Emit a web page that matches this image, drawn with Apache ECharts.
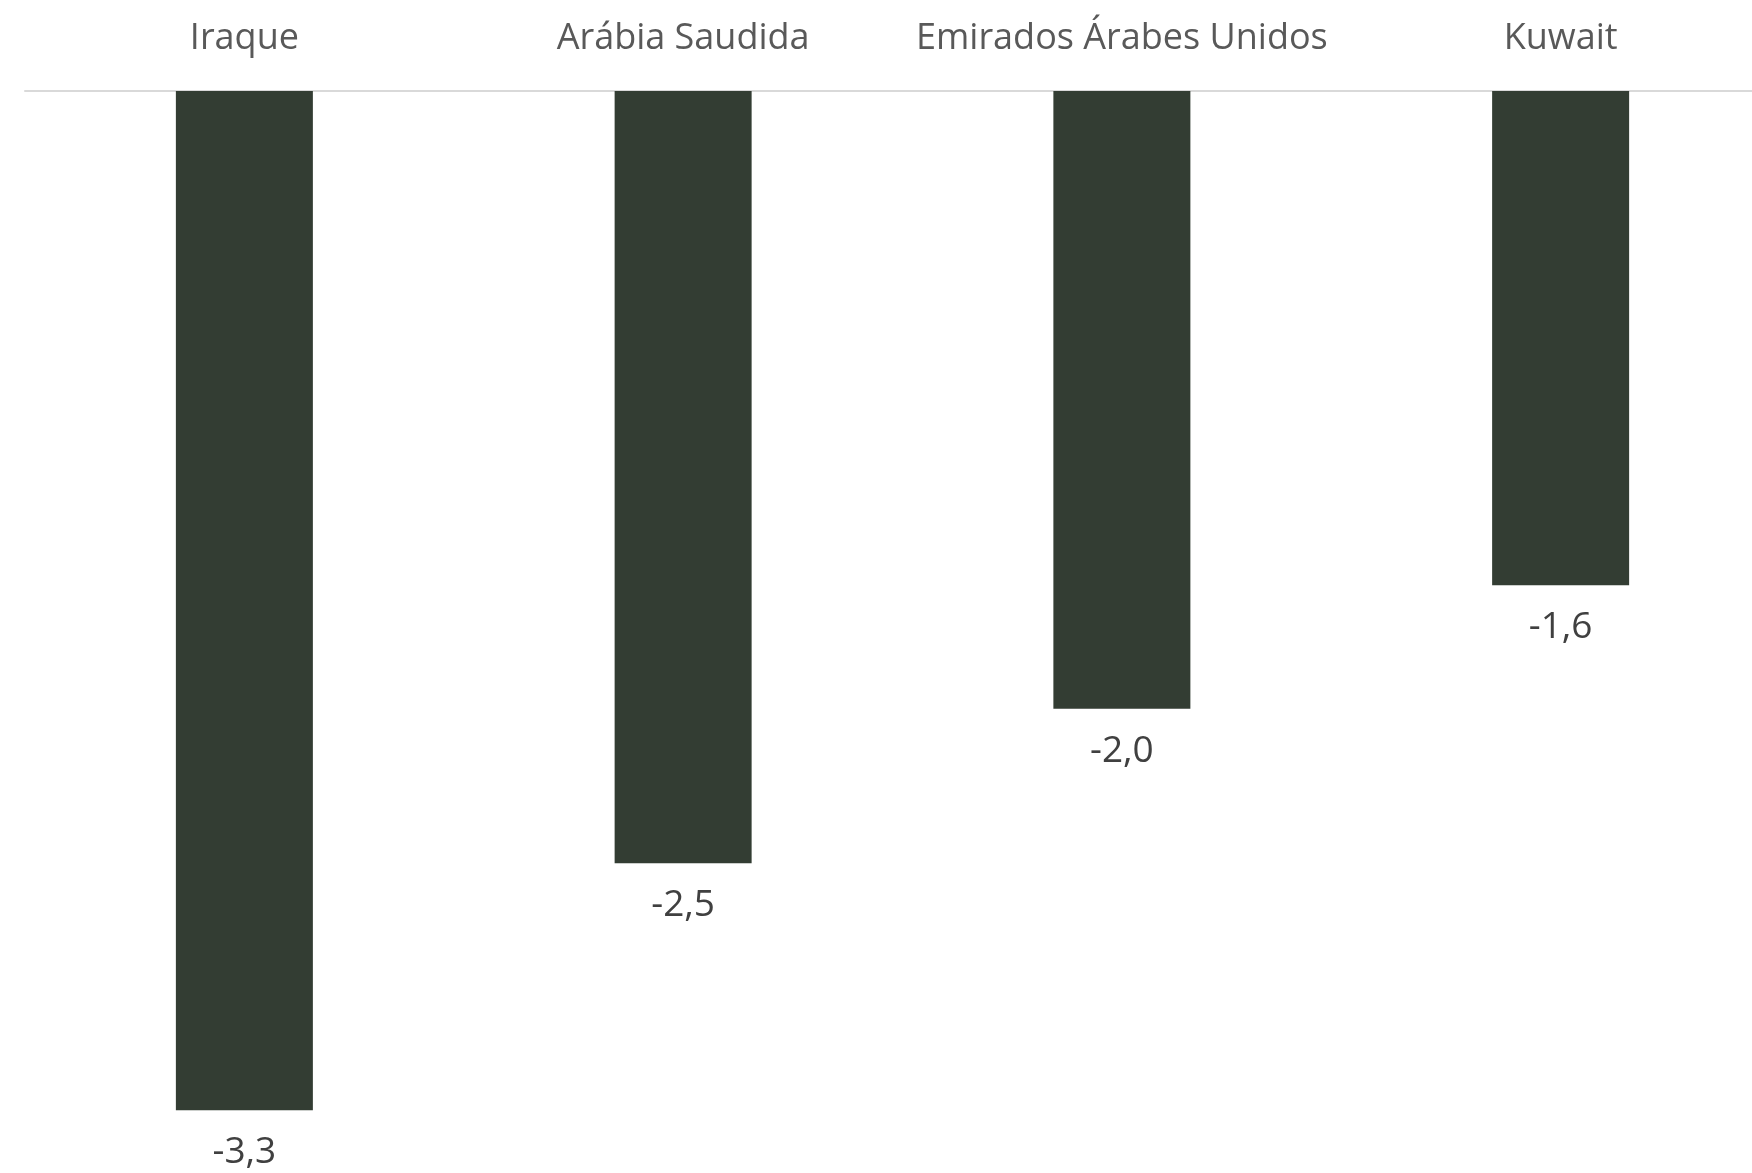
<!DOCTYPE html>
<html>
<head>
<meta charset="utf-8">
<style>
  html, body { margin: 0; padding: 0; background: #ffffff; overflow: hidden; }
  /* the plot runs slightly past the right edge of the page */
  #chart { width: 1780px; height: 1173px; }
</style>
<script src="https://cdn.jsdelivr.net/npm/echarts@6/dist/echarts.min.js"></script>
</head>
<body>
<div id="chart"></div>
<script>
// Countries and their values (negative, drawn downward from the top axis)
const categories = ['Iraque', 'Arábia Saudida', 'Emirados Árabes Unidos', 'Kuwait'];
const values = [-3.3, -2.5, -2.0, -1.6];

const chart = echarts.init(document.getElementById('chart'));

chart.setOption({
  animation: false,
  backgroundColor: '#ffffff',
  grid: { left: 25, top: 91, right: 0, height: 1081, containLabel: false },
  xAxis: {
    type: 'category',
    position: 'top',
    data: categories,
    axisLine: { show: true, onZero: false, lineStyle: { color: '#d9d9d9', width: 2 } },
    axisTick: { show: false },
    axisLabel: {
      interval: 0,
      margin: 34,
      color: '#595959',
      fontFamily: 'Open Sans',
      fontSize: 36
    }
  },
  yAxis: {
    type: 'value',
    min: -3.5,
    max: 0,
    show: false,
    splitLine: { show: false }
  },
  series: [{
    type: 'bar',
    data: values,
    barWidth: 137,
    itemStyle: { color: '#333d33' },
    label: {
      show: true,
      position: 'bottom',
      distance: 24,
      color: '#404040',
      fontFamily: 'Open Sans',
      fontSize: 37,
      formatter: p => p.value.toFixed(1).replace('.', ',')
    }
  }]
});
</script>
</body>
</html>
